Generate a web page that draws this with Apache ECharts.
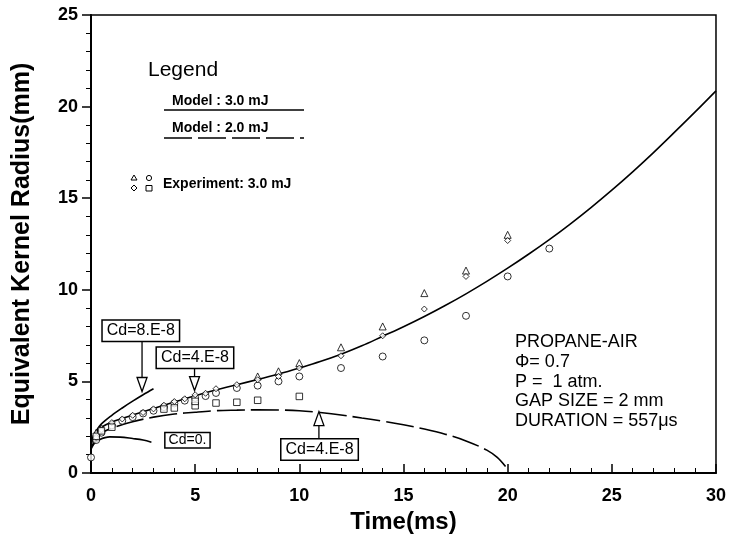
<!DOCTYPE html>
<html><head><meta charset="utf-8">
<script src="https://cdn.jsdelivr.net/npm/echarts@6/dist/echarts.min.js"></script>
<style>html,body{margin:0;padding:0;background:#fff}#c{width:729px;height:541px}</style>
</head><body><div id="c"></div>
<script>
// ---------- data ----------
const xTicks = [0, 5, 10, 15, 20, 25, 30];
const yTicks = [0, 5, 10, 15, 20, 25];

// Model 3.0 mJ, Cd=4.E-8 (solid)
const model3_t = [0, 0.1, 0.25, 0.5, 1, 1.5, 2, 3, 4, 5, 6, 7, 8, 9, 10, 11, 12, 13, 14, 15, 16, 17, 18, 19, 20, 21, 22, 23, 24, 25, 26, 27, 28, 29, 30];
const model3_r = [1.5, 1.95, 2.25, 2.5, 2.78, 2.98, 3.16, 3.52, 3.88, 4.22, 4.53, 4.82, 5.1, 5.4, 5.73, 6.08, 6.48, 6.94, 7.46, 7.98, 8.54, 9.14, 9.78, 10.46, 11.18, 11.94, 12.74, 13.59, 14.49, 15.44, 16.44, 17.49, 18.59, 19.71, 20.86];
// Model 3.0 mJ, Cd=8.E-8 (solid)
const model3cd8_t = [0, 0.1, 0.25, 0.5, 1, 1.5, 2, 2.5, 3];
const model3cd8_r = [1.5, 1.95, 2.3, 2.68, 3.15, 3.55, 3.92, 4.27, 4.6];
// Model 3.0 mJ, Cd=0. (solid)
const model3cd0_t = [0, 0.15, 0.4, 0.9, 1.4, 2, 2.5, 2.9];
const model3cd0_r = [1.3, 1.6, 1.82, 1.97, 1.96, 1.88, 1.8, 1.68];
// Model 2.0 mJ, Cd=4.E-8 (dashed)
const model2_t = [0, 0.5, 1, 2, 3, 4, 5, 6, 7, 8, 9, 10, 11, 12, 13, 14, 15, 16, 17, 18, 19, 19.5, 19.9];
const model2_r = [1.4, 2.15, 2.45, 2.8, 3.05, 3.22, 3.32, 3.4, 3.43, 3.45, 3.44, 3.4, 3.3, 3.17, 3.0, 2.83, 2.63, 2.4, 2.12, 1.75, 1.25, 0.85, 0.35];

// Experiment 3.0 mJ
const expTriangle = [[0.25, 2.2], [0.5, 2.45], [8, 5.27], [9, 5.55], [10, 6.0], [12, 6.86], [14, 8.0], [16, 9.82], [18, 11.05], [20, 13.0]];
const expCircle = [[0, 0.85], [0.25, 1.8], [0.5, 2.2], [1, 2.6], [1.5, 2.85], [2, 3.05], [2.5, 3.25], [3, 3.4], [3.5, 3.6], [4, 3.8], [4.5, 3.95], [5, 4.1], [5.5, 4.2], [6, 4.37], [7, 4.64], [8, 4.77], [9, 5.0], [10, 5.27], [12, 5.73], [14, 6.36], [16, 7.24], [18, 8.58], [20, 10.73], [22, 12.25]];
const expDiamond = [[0.25, 1.95], [0.5, 2.35], [1, 2.75], [1.5, 2.95], [2, 3.15], [2.5, 3.3], [3, 3.5], [3.5, 3.7], [4, 3.9], [4.5, 4.05], [5, 4.27], [5.5, 4.35], [6, 4.6], [7, 4.82], [8, 5.09], [9, 5.27], [10, 5.73], [12, 6.4], [14, 7.49], [16, 8.95], [18, 10.73], [20, 12.69]];
const expSquare = [[0.25, 2.0], [0.5, 2.3], [1, 2.5], [3.5, 3.49], [4, 3.55], [5, 3.67], [5, 3.91], [6, 3.82], [7, 3.86], [8, 3.97], [10, 4.18]];

// annotation texts
const calloutLabels = ['Cd=8.E-8', 'Cd=4.E-8', 'Cd=0.', 'Cd=4.E-8'];
const conditionLines = ['PROPANE-AIR', 'Φ= 0.7', 'P =  1 atm.', 'GAP SIZE = 2 mm', 'DURATION = 557μs'];

// ---------- chart ----------
const FONT = "'Liberation Sans', Arial, Helvetica, sans-serif";
const zip = (a, b) => a.map((v, i) => [v, b[i]]);
const chart = echarts.init(document.getElementById('c'), null, {renderer: 'canvas'});

const lineBase = {type: 'line', showSymbol: false, symbol: 'none', smooth: 0.35, silent: true, z: 3};
const scatBase = {type: 'scatter', silent: true, z: 4, itemStyle: {color: '#fff', borderColor: '#000', borderWidth: 1}};

chart.setOption({
  animation: false,
  backgroundColor: '#fff',
  grid: {left: 91, top: 15, width: 628, height: 458, show: true, borderColor: '#000', borderWidth: 1.5, backgroundColor: 'transparent'},
  xAxis: {
    type: 'value', min: 0, max: 30, interval: 5,
    name: 'Time(ms)', nameLocation: 'middle', nameGap: 36,
    nameTextStyle: {fontFamily: FONT, fontWeight: 'bold', fontSize: 24, color: '#000'},
    axisLine: {onZero: false, lineStyle: {color: '#000', width: 2}},
    axisTick: {inside: true, length: 9, lineStyle: {color: '#000', width: 1.5}},
    minorTick: {show: true, splitNumber: 5, length: 5, lineStyle: {color: '#000', width: 1}},
    axisLabel: {fontFamily: FONT, fontWeight: 'bold', fontSize: 18, color: '#000', margin: 14,
      formatter: v => xTicks.includes(v) ? String(v) : ''},
    splitLine: {show: false}, minorSplitLine: {show: false}
  },
  yAxis: {
    type: 'value', min: 0, max: 25, interval: 5,
    name: 'Equivalent Kernel Radius(mm)', nameLocation: 'middle', nameGap: 56,
    nameTextStyle: {fontFamily: FONT, fontWeight: 'bold', fontSize: 25, color: '#000'},
    axisLine: {onZero: false, lineStyle: {color: '#000', width: 2}},
    axisTick: {inside: false, length: 9, lineStyle: {color: '#000', width: 1.5}},
    minorTick: {show: true, splitNumber: 5, length: 5, lineStyle: {color: '#000', width: 1}},
    axisLabel: {fontFamily: FONT, fontWeight: 'bold', fontSize: 18, color: '#000', margin: 13,
      formatter: v => yTicks.includes(v) ? String(v) : ''},
    splitLine: {show: false}, minorSplitLine: {show: false}
  },
  series: [
    Object.assign({}, lineBase, {name: 'Model : 3.0 mJ', data: zip(model3_t, model3_r), lineStyle: {color: '#000', width: 1.6}}),
    Object.assign({}, lineBase, {name: 'Model : 3.0 mJ Cd=8.E-8', data: zip(model3cd8_t, model3cd8_r), lineStyle: {color: '#000', width: 1.6}}),
    Object.assign({}, lineBase, {name: 'Model : 3.0 mJ Cd=0.', data: zip(model3cd0_t, model3cd0_r), lineStyle: {color: '#000', width: 1.6}}),
    Object.assign({}, lineBase, {name: 'Model : 2.0 mJ', data: zip(model2_t, model2_r), lineStyle: {color: '#000', width: 1.6, type: [28, 6]}}),
    Object.assign({}, scatBase, {name: 'Exp triangle', symbol: 'triangle', symbolSize: 7, data: expTriangle}),
    Object.assign({}, scatBase, {name: 'Exp circle', symbol: 'circle', symbolSize: 7, data: expCircle}),
    Object.assign({}, scatBase, {name: 'Exp diamond', symbol: 'diamond', symbolSize: 6, data: expDiamond}),
    Object.assign({}, scatBase, {name: 'Exp square', symbol: 'rect', symbolSize: 6.5, data: expSquare})
  ]
});

// ---------- annotations (positioned through the chart's own scales) ----------
const px = (t, r) => chart.convertToPixel({gridIndex: 0}, [t, r]);
const callouts = [
  {box: [2.39, 7.76], tip: [2.45, 4.45], fs: 16},
  {box: [4.99, 6.29], tip: [4.97, 4.5], fs: 16},
  {box: [4.63, 1.79], tip: null, fs: 14},
  {box: [10.97, 1.28], tip: [10.94, 3.35], fs: 16}
];
const g = [];
callouts.forEach((c, i) => {
  const b = px(c.box[0], c.box[1]);
  const pad = c.fs >= 16 ? [2, 4] : [0, 3];
  const h = c.fs + pad[0] * 2 + 2;
  if (c.tip) {
    const t = px(c.tip[0], c.tip[1]);
    const down = t[1] > b[1];
    const baseY = down ? t[1] - 14 : t[1] + 14;
    const edgeY = down ? b[1] + h / 2 : b[1] - h / 2;
    g.push({type: 'line', z: 10, shape: {x1: t[0], y1: edgeY, x2: t[0], y2: baseY}, style: {stroke: '#000', lineWidth: 1.3}});
    g.push({type: 'polygon', z: 10, shape: {points: [[t[0] - 5, baseY], [t[0] + 5, baseY], [t[0], t[1]]]}, style: {fill: '#fff', stroke: '#000', lineWidth: 1.3}});
  }
  g.push({type: 'text', z: 11, x: b[0], y: b[1], style: {
    text: calloutLabels[i], font: `${c.fs}px ${FONT}`, fill: '#000', align: 'center', verticalAlign: 'middle',
    backgroundColor: '#fff', borderColor: '#000', borderWidth: 1.5, padding: pad}});
});

// legend block
g.push({type: 'text', z: 11, x: 148, y: 70, style: {text: 'Legend', font: `21px ${FONT}`, fill: '#000', align: 'left', verticalAlign: 'middle'}});
g.push({type: 'text', z: 11, x: 172, y: 101, style: {text: 'Model : 3.0 mJ', font: `bold 14px ${FONT}`, fill: '#000', align: 'left', verticalAlign: 'middle'}});
g.push({type: 'line', z: 11, shape: {x1: 164, y1: 110, x2: 304, y2: 110}, style: {stroke: '#000', lineWidth: 1.5}});
g.push({type: 'text', z: 11, x: 172, y: 128, style: {text: 'Model : 2.0 mJ', font: `bold 14px ${FONT}`, fill: '#000', align: 'left', verticalAlign: 'middle'}});
g.push({type: 'line', z: 11, shape: {x1: 164, y1: 138, x2: 304, y2: 138}, style: {stroke: '#000', lineWidth: 1.5, lineDash: [28, 6]}});
g.push({type: 'polygon', z: 11, shape: {points: [[131, 180], [137, 180], [134, 175]]}, style: {fill: '#fff', stroke: '#000', lineWidth: 1}});
g.push({type: 'circle', z: 11, shape: {cx: 149, cy: 178, r: 2.6}, style: {fill: '#fff', stroke: '#000', lineWidth: 1}});
g.push({type: 'polygon', z: 11, shape: {points: [[134, 185], [137, 188], [134, 191], [131, 188]]}, style: {fill: '#fff', stroke: '#000', lineWidth: 1}});
g.push({type: 'rect', z: 11, shape: {x: 146, y: 185.5, width: 6, height: 5.5}, style: {fill: '#fff', stroke: '#000', lineWidth: 1}});
g.push({type: 'text', z: 11, x: 163, y: 184, style: {text: 'Experiment: 3.0 mJ', font: `bold 14px ${FONT}`, fill: '#000', align: 'left', verticalAlign: 'middle'}});

// condition text block
conditionLines.forEach((s, i) => {
  g.push({type: 'text', z: 11, x: 515, y: 342 + i * 19.8, style: {text: s, font: `18px ${FONT}`, fill: '#000', align: 'left', verticalAlign: 'middle'}});
});

chart.setOption({graphic: g});
</script>
</body></html>
